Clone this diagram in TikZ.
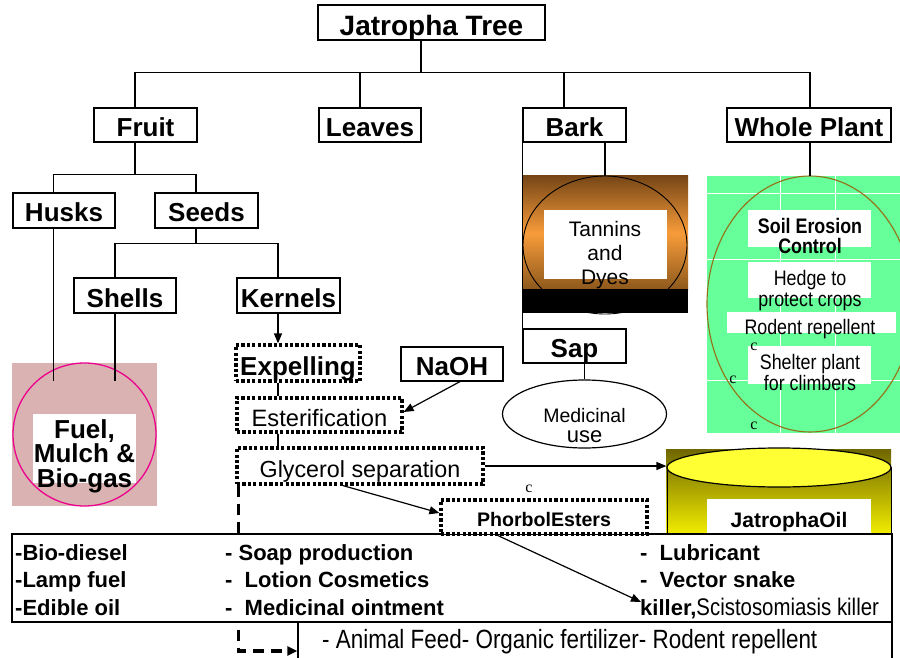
\documentclass[tikz,border=0pt]{standalone}
\usepackage{fontspec}
\setmainfont{Liberation Sans}
\newfontfamily\narrowfont[FakeStretch=0.85]{Liberation Sans}
\newfontfamily\markfont{Liberation Serif}
\usetikzlibrary{arrows.meta,calc,shapes.geometric}
\newcommand\fsz[2]{\fontsize{#1}{#2}\selectfont}

\definecolor{pinkbg}{RGB}{218,178,178}
\definecolor{barktop}{RGB}{118,70,22}
\definecolor{barkmid}{RGB}{248,156,58}
\definecolor{barkbot}{RGB}{140,88,28}
\definecolor{leafgreen}{RGB}{102,255,153}
\definecolor{rimolive}{RGB}{150,112,22}
\definecolor{oildark}{RGB}{110,102,0}
\definecolor{oillight}{RGB}{245,240,0}
\definecolor{oilcap}{RGB}{255,255,51}

\pgfdeclarelayer{bg}
\pgfdeclarelayer{under}
\pgfsetlayers{bg,under,main}

\tikzset{
  conn/.style={line width=1.2pt, draw=black},
  arr/.style={conn, -{Triangle[length=10pt,width=8pt]}},
  tbox/.style={draw, line width=1.2pt, fill=white, inner sep=0pt,
    minimum height=34pt, font=\bfseries\fsz{26}{26}, text height=23pt, text depth=0pt},
  dotbox/.style={draw=black, line width=3.2pt, dash pattern=on 3.2pt off 2.2pt, fill=white,
    inner sep=0pt, text depth=0pt},
  plain/.style={inner sep=0pt, align=center},
  listtxt/.style={inner sep=0pt, anchor=base west, font=\bfseries\fsz{22}{22}},
  cmark/.style={inner sep=0pt, font=\markfont\fsz{16}{16}},
  dashline/.style={line width=3.2pt, dash pattern=on 11pt off 7pt,
    -{Triangle[length=10pt,width=9pt]}},
}

\begin{document}
\begin{tikzpicture}[x=1pt,y=-1pt]
\useasboundingbox (0,0) rectangle (900,658);
\begin{pgfonlayer}{bg}
  \fill[white] (0,0) rectangle (900,658);
\end{pgfonlayer}

% husks and shells panel (multi-line texts are placed by their last baseline)
\fill[pinkbg] (12,363) rectangle (157,506);
\draw[magenta, line width=1.3pt] (84.5,434.5) circle[radius=71.5];
\fill[white] (33,414) rectangle (136,483);
\node[plain, anchor=base, font=\bfseries\fsz{26}{24.5}] (fuel) at (84.5,487) {Fuel,\\Mulch \&\\Bio-gas};
\coordinate (husksend) at (53.5,381);
\coordinate (shellsend) at (115,381);

% bark panel
\shade[top color=barktop, bottom color=barkbot, middle color=barkmid] (523,176) rectangle (688,290);
\draw[line width=0.9pt] (605,245) ellipse[x radius=82, y radius=69];
\fill[black] (523,289) rectangle (688,313);
\fill[white] (544,210) rectangle (667,279);
\node[plain, anchor=base, font=\fsz{21}{24}] (tannins) at (605,284) {Tannins\\and\\Dyes};
\coordinate (barkimg) at (605,176);

% sap use
\node[draw, ellipse, line width=1.2pt, minimum width=164pt, minimum height=68pt, inner sep=0pt] (med) at (584.5,414) {};
\node[plain, anchor=base, font=\fsz{19.5}{20}] (medtxt) at (584.5,442) {Medicinal\\{\fsz{22}{20}use}};

% whole plant panel
\fill[leafgreen] (707,176) rectangle (900,433);
\draw[white, line width=0.8pt] (707,193) -- (900,193) (707,259) -- (900,259) (707,380) -- (900,380)
  (780,176) -- (780,433) (835,176) -- (835,433);
\draw[rimolive, line width=1.1pt] (810,304) ellipse[x radius=103, y radius=128];
\fill[white] (748,210) rectangle (871,247);
\fill[white] (748,262) rectangle (871,298);
\fill[white] (727,312) rectangle (896,333);
\fill[white] (748,346) rectangle (871,384);
\node[plain, anchor=base, font=\narrowfont\bfseries\fsz{21}{20}] (soil) at (810,253) {Soil Erosion\\Control};
\node[plain, anchor=base, font=\narrowfont\fsz{21}{21}] (hedge) at (810,306) {Hedge to\\protect crops};
\node[plain, anchor=base, font=\narrowfont\fsz{21}{21}] (rodent) at (810,334) {Rodent repellent};
\node[plain, anchor=base, font=\narrowfont\fsz{21}{21}] (shelter) at (810,390) {Shelter plant\\for climbers};
\coordinate (greenimg) at (810,176);

% oil cylinder
\shade[top color=oildark, bottom color=oillight] (666,449) rectangle (891,536);
\draw[conn, line width=1pt] (667,467) -- (667,536) (891,467) -- (891,536);
\node[draw, ellipse, fill=oilcap, line width=1.2pt, minimum width=224pt, minimum height=39pt, inner sep=0pt] (oiltop) at (779,467.5) {};
\fill[white] (707,499) rectangle (871,536);
\node[plain, anchor=base, font=\bfseries\fsz{21}{21}] (oil) at (789,527) {JatrophaOil};

% tree
\node[tbox, minimum width=227pt, minimum height=35pt, font=\bfseries\fsz{28}{28}, text height=27pt] (root) at (431.5,22.5) {Jatropha Tree};
\node[tbox, minimum width=103pt] (fruit) at (145.5,125) {Fruit};
\node[tbox, minimum width=102pt] (leaves) at (370,125) {Leaves};
\node[tbox, minimum width=103pt] (bark) at (574.5,125) {Bark};
\node[tbox, minimum width=164pt] (whole) at (809,125) {Whole Plant};
\node[tbox, minimum width=102pt, minimum height=35pt] (husks) at (64,210.5) {Husks};
\node[tbox, minimum width=103pt, minimum height=35pt] (seeds) at (206.5,210.5) {Seeds};
\node[tbox, minimum width=102pt, minimum height=35pt] (shells) at (125,295.5) {Shells};
\node[tbox, minimum width=103pt, minimum height=35pt] (kernels) at (288.5,295.5) {Kernels};
\node[tbox, minimum width=103pt] (sap) at (574.5,346) {Sap};
\node[tbox, minimum width=102pt] (naoh) at (452,364) {NaOH};

% processing steps
\node[dotbox, minimum width=124pt, minimum height=36pt, font=\bfseries\fsz{26}{26}, text height=24pt] (expel) at (298,363) {Expelling};
\node[dotbox, minimum width=165pt, minimum height=34pt, font=\fsz{23.7}{24}, text height=22pt] (ester) at (319.5,415) {Esterification};
\node[dotbox, minimum width=246pt, minimum height=36pt, font=\fsz{23.3}{24}, text height=22pt] (glyc) at (360,466) {Glycerol separation};

% uses
\node[draw, line width=1.2pt, fill=white, minimum width=880pt, minimum height=88pt, inner sep=0pt] (uses) at (452,578) {};
\node[draw, line width=1.2pt, fill=white, minimum width=594pt, minimum height=37pt, inner sep=0pt] (feed) at (595,640.5) {};
\begin{pgfonlayer}{under}
  \draw[dashline] ([xshift=3pt]glyc.south west) |- ([yshift=-10.5pt]feed.west);
\end{pgfonlayer}

\node[listtxt] (biodiesel) at (15,560) {-Bio-diesel};
\node[listtxt] (lampfuel) at (15,587) {-Lamp fuel};
\node[listtxt] (edible) at (15,615) {-Edible oil};
\node[listtxt] (soap) at (225,560) {- Soap production};
\node[listtxt] (lotion) at (225,587) {-\ \ Lotion Cosmetics};
\node[listtxt] (ointment) at (225,615) {-\ \ Medicinal ointment};
\node[listtxt] (lubricant) at (640,560) {-\ \ Lubricant};
\node[listtxt] (vector) at (640,587) {-\ \ Vector snake};
\node[listtxt] (killer) at (640,615) {killer,{\narrowfont\mdseries\fsz{24}{24}Scistosomiasis killer}};
\node[inner sep=0pt, anchor=base west, font=\narrowfont\fsz{26.4}{26.4}] (feedtxt) at (322,648) {- Animal Feed- Organic fertilizer- Rodent repellent};

\node[dotbox, minimum width=206pt, minimum height=34pt, font=\bfseries\fsz{19.6}{20}, text height=18pt] (phorbol) at (544,517) {PhorbolEsters};

% stray marks
\node[cmark] (c1) at (529,489) {c};
\node[cmark] (c2) at (754,347) {c};
\node[cmark] (c3) at (733,380) {c};
\node[cmark] (c4) at (754,426) {c};

% tree connectors
\draw[conn] ([xshift=-10.5pt]fruit.north) -- ++(0,-35) -| ([xshift=-10.5pt]root.south);
\draw[conn] ([xshift=-10pt]leaves.north) -- ++(0,-35) -| ([xshift=-10.5pt]root.south);
\draw[conn] ([xshift=-10.5pt]bark.north) -- ++(0,-35) -| ([xshift=-10.5pt]root.south);
\draw[conn] ([xshift=1pt]whole.north) -- ++(0,-35) -| ([xshift=-10.5pt]root.south);
\draw[conn] ([xshift=-10.5pt]husks.north) -- ++(0,-17.5) -| ([xshift=-10.5pt]fruit.south);
\draw[conn] ([xshift=-10.5pt]seeds.north) -- ++(0,-17.5) -| ([xshift=-10.5pt]fruit.south);
\draw[conn] ([xshift=-10pt]shells.north) -- ++(0,-34) -| ([xshift=-10.5pt]seeds.south);
\draw[conn] ([xshift=-10.5pt]kernels.north) -- ++(0,-34) -| ([xshift=-10.5pt]seeds.south);
\draw[conn] ([xshift=-10.5pt]husks.south) -- (husksend);
\draw[conn] ([xshift=-10pt]shells.south) -- (shellsend);
\draw[conn] ([xshift=30.5pt]bark.south) -- (barkimg);
\draw[conn] (bark.south west) -- (sap.north west);
\draw[conn] (sap.south -| med.north) -- (med.north);
\draw[conn] ([xshift=1pt]whole.south) -- (greenimg);

% process connectors
\draw[arr] ([xshift=-10.5pt]kernels.south) -- ([xshift=-10.5pt]kernels.south |- expel.north);
\draw[conn] ([xshift=-20pt]expel.south) -- ([xshift=-20pt]expel.south |- ester.north);
\draw[conn] ([xshift=-41.5pt]ester.south) -- ([xshift=-41.5pt]ester.south |- glyc.north);
\draw[arr] ([xshift=8pt]naoh.south) -- ([yshift=3pt]ester.east);
\draw[arr] (glyc.east) -- (glyc.east -| oiltop.west);
\draw[arr] ([xshift=-17pt]glyc.south) -- ([yshift=4pt]phorbol.west);
\draw[arr] ([xshift=-46pt]phorbol.south) -- ($(killer.base west)+(1,-13)$);
\end{tikzpicture}
\end{document}
